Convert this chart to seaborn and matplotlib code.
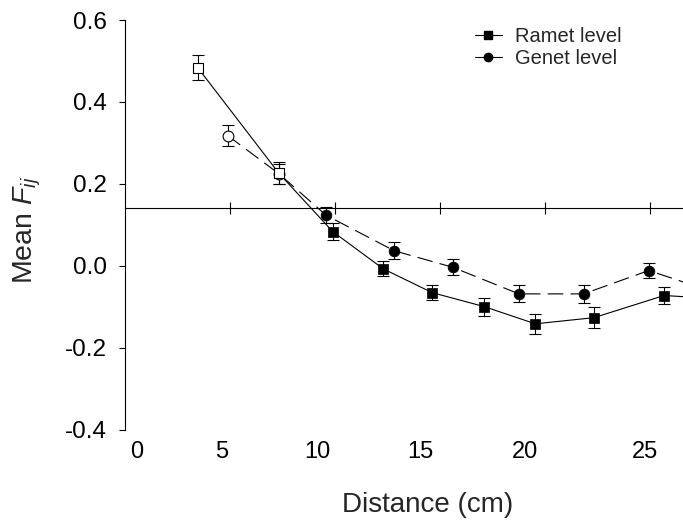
import matplotlib
matplotlib.use("Agg")
import matplotlib.pyplot as plt
from matplotlib.lines import Line2D
import numpy as np
import pandas as pd
import seaborn as sns

# Ramet-level kinship by distance class
ramet_dist = [3.46, 7.33, 9.89, 12.3, 14.63, 17.1, 19.54, 22.33, 25.67, 28.3]
ramet_fij = [0.484, 0.226, 0.084, -0.007, -0.065, -0.099, -0.141, -0.126, -0.072, -0.080]
ramet_err = [0.030, 0.027, 0.020, 0.018, 0.018, 0.022, 0.024, 0.025, 0.020, 0.020]
ramet_open = [True, True, False, False, False, False, False, False, False, False]

# Genet-level kinship by distance class
genet_dist = [4.89, 7.33, 9.57, 12.83, 15.6, 18.76, 21.84, 24.94, 28.0]
genet_fij = [0.318, 0.225, 0.124, 0.037, -0.003, -0.068, -0.068, -0.011, -0.063]
genet_err = [0.025, 0.025, 0.020, 0.021, 0.020, 0.021, 0.022, 0.018, 0.020]
genet_open = [True, True, False, False, False, False, False, False, False]

# Reference level drawn as the distance axis
ref_level = 0.1415

x_ticks = [5, 10, 15, 20, 25]
x_label_text = ["0", "5", "10", "15", "20", "25"]
x_label_pos = [0.57, 4.62, 9.14, 14.05, 19.05, 24.76]
y_ticks = [-0.4, -0.2, 0.0, 0.2, 0.4, 0.6]

sns.set_style("ticks")
plt.rcParams["font.family"] = ["Liberation Sans", "DejaVu Sans"]
plt.rcParams["mathtext.fontset"] = "custom"
plt.rcParams["mathtext.rm"] = "Liberation Sans"
plt.rcParams["mathtext.it"] = "Liberation Sans:italic"

df = pd.concat([
    pd.DataFrame({"distance": ramet_dist, "fij": ramet_fij, "err": ramet_err,
                  "open": ramet_open, "level": "Ramet level"}),
    pd.DataFrame({"distance": genet_dist, "fij": genet_fij, "err": genet_err,
                  "open": genet_open, "level": "Genet level"}),
], ignore_index=True)

fig = plt.figure(figsize=(6.83, 5.2), dpi=100)
ax = fig.add_axes([125 / 683, 90 / 520, 558 / 683, 410 / 520])

# connecting lines
sns.lineplot(data=df, x="distance", y="fij", style="level",
             dashes={"Ramet level": "", "Genet level": (14, 6.5)},
             color="black", linewidth=0.8, sort=False, estimator=None,
             legend=False, ax=ax, zorder=2)

# error bars
for lvl, sub in df.groupby("level"):
    ax.errorbar(sub["distance"], sub["fij"], yerr=sub["err"], fmt="none",
                ecolor="black", elinewidth=0.8, capsize=4.3, capthick=0.8,
                zorder=3)

# markers: filled and open (genet drawn first so ramet sits on top)
marker_of = {"Ramet level": "s", "Genet level": "o"}
for lvl in ["Genet level", "Ramet level"]:
    sub = df[df["level"] == lvl]
    filled = sub[~sub["open"]]
    hollow = sub[sub["open"]]
    z = 5 if lvl == "Ramet level" else 4
    sns.scatterplot(x=filled["distance"], y=filled["fij"], marker=marker_of[lvl],
                    s=60, color="black", edgecolor="black", linewidth=0.5,
                    ax=ax, zorder=z, legend=False)
    ax.scatter(hollow["distance"], hollow["fij"], marker=marker_of[lvl], s=60,
               facecolor="white", edgecolor="black", linewidth=0.8, zorder=z)

ax.set_xlim(0, 558 / 21)
ax.set_ylim(-0.4, 0.6)

# left axis
ax.set_yticks(y_ticks)
ax.set_yticklabels([f"{v:.1f}" for v in y_ticks])
ax.tick_params(axis="y", direction="out", length=4.3, width=0.8, pad=9,
               labelsize=17.5, colors="black")
ax.spines["left"].set_linewidth(0.8)
ax.spines["left"].set_color("black")
ax.spines["left"].set_bounds(-0.4, 0.6)

# distance axis running through the reference level
ax.spines["bottom"].set_position(("data", ref_level))
ax.spines["bottom"].set_linewidth(0.8)
ax.spines["bottom"].set_color("black")
ax.set_xticks(x_ticks)
ax.tick_params(axis="x", direction="inout", length=8, width=0.8,
               labelbottom=False, colors="black")
ax.spines["top"].set_visible(False)
ax.spines["right"].set_visible(False)

# distance labels along the bottom edge
secax = ax.secondary_xaxis("bottom")
secax.set_xticks(x_label_pos)
secax.set_xticklabels(x_label_text)
secax.tick_params(axis="x", length=0, pad=8, labelsize=17, colors="black")
secax.spines["bottom"].set_visible(False)

ax.set_xlabel("")
ax.set_ylabel("")
fig.text(428 / 683, 1 - 505 / 520, "Distance (cm)", fontsize=20,
         ha="center", va="center")
fig.text(27 / 683, 1 - 230 / 520, r"Mean $F_{ij}$", fontsize=20.5,
         rotation=90, ha="center", va="center")

handles = [
    Line2D([], [], color="black", linewidth=0.8, marker="s", markersize=6),
    Line2D([], [], color="black", linewidth=0.8, marker="o", markersize=6),
]
ax.legend(handles, ["Ramet level", "Genet level"], loc="upper left",
          bbox_to_anchor=(0.627, 0.982), frameon=False, fontsize=14.5,
          handlelength=1.35, handletextpad=0.65, labelspacing=0.15,
          borderpad=0, borderaxespad=0)

fig.savefig("out.png", dpi=100)
